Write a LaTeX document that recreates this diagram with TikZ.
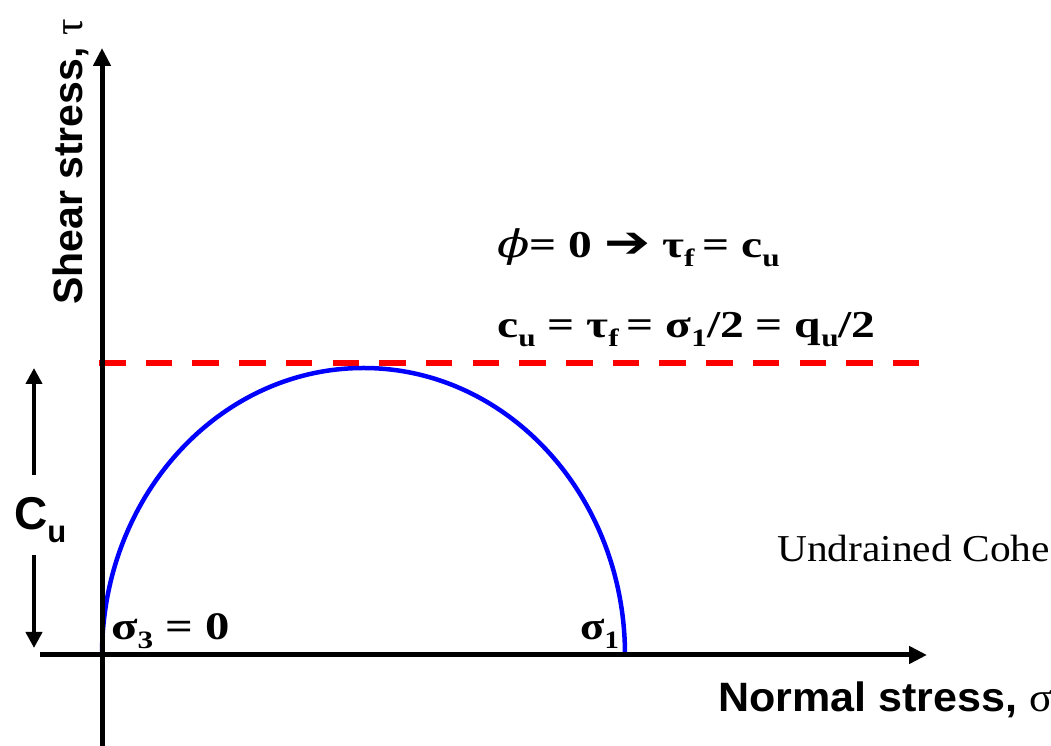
\documentclass[tikz,border=0pt]{standalone}
\usepackage{fontspec}
\setmainfont{Liberation Serif}
\newfontfamily\arialfont{Liberation Sans}
\newfontfamily\dvsans{DejaVu Sans}
\newfontfamily\dvserif{DejaVu Serif}
\usetikzlibrary{arrows.meta}
\newcommand{\sbx}[1]{\raisebox{-0.22em}{\fontsize{25}{25}\selectfont #1}}
\newcommand{\wide}[1]{\scalebox{1.25}[1]{#1}}
\begin{document}
\begin{tikzpicture}[x=1pt,y=1pt,
  axisline/.style={line width=5pt,-{Triangle[length=18pt,width=17pt]}},
  cuarrow/.style={line width=4.3pt,-{Triangle[length=16pt,width=16pt]}},
  circ/.style={draw=blue,line width=4.5pt},
  envelope/.style={draw=red,line width=6pt,dash pattern=on 26.5pt off 20.2pt},
  eqtext/.style={font=\fontsize{38}{40}\selectfont\bfseries,inner sep=0pt,anchor=base west},
  sigtext/.style={font=\fontsize{39}{40}\selectfont\bfseries,inner sep=0pt,anchor=base west},
  axlabel/.style={font=\fontsize{41}{44}\selectfont\arialfont\bfseries,inner sep=0pt,anchor=base west},
  note/.style={font=\fontsize{38}{40}\selectfont,inner sep=0pt,anchor=base west}]
\useasboundingbox (0,0) rectangle (1051,746);
\clip (0,0) rectangle (1051,746);
% coordinates
\coordinate (O) at (102,91);
\coordinate (ytop) at (102,698);
\coordinate (ybot) at (102,0);
\coordinate (xleft) at (40,91);
\coordinate (xright) at (927,91);
\coordinate (r1) at (99,383.3);
\coordinate (r2) at (920,383.3);
\coordinate (cuA) at (34,271);
\coordinate (cuT) at (34,378);
\coordinate (cuB) at (34,191);
\coordinate (cuD) at (34,98);
% envelope
\draw[envelope] (r1) -- (r2);
% Mohr circle
\draw[circ] (O) arc[start angle=180,end angle=0,x radius=261.5,y radius=287];
% axes
\draw[axisline] (ybot) -- (ytop);
\draw[axisline] (xleft) -- (xright);
% Cu arrows
\draw[cuarrow] (cuA) -- (cuT);
\draw[cuarrow] (cuB) -- (cuD);
\node[inner sep=0pt,anchor=base west,font=\fontsize{46}{48}\selectfont\arialfont\bfseries] (cu) at (14,216) {C\raisebox{-13pt}{\fontsize{31}{31}\selectfont u}};
% labels
\node[axlabel,rotate=90] (ylab) at (82,441) {Shear stress, {\rmfamily\mdseries τ}};
\node[axlabel] (xlab) at (718,34) {\scalebox{1.05}[1]{Normal stress, {\rmfamily\mdseries σ}}};
\node[eqtext] (eq1) at (497,488) {\wide{{\dvserif\itshape\mdseries ϕ}= 0 {\dvsans\bfseries\fontsize{44}{44}\selectfont ➔} τ\sbx{f}\,= c\sbx{u}}};
\node[eqtext] (eq2) at (497,408) {\wide{c\sbx{u} = τ\sbx{f}\,= σ\sbx{1}/2 = q\sbx{u}/2}};
\node[sigtext] (s3) at (111,106) {\wide{σ\sbx{3} = 0}};
\node[sigtext] (s1) at (580,106) {\scalebox{1.15}[1]{σ\sbx{1}}};
\node[note] (und) at (777,184) {\scalebox{1.09}[1]{Undrained Cohe}};
\end{tikzpicture}
\end{document}
